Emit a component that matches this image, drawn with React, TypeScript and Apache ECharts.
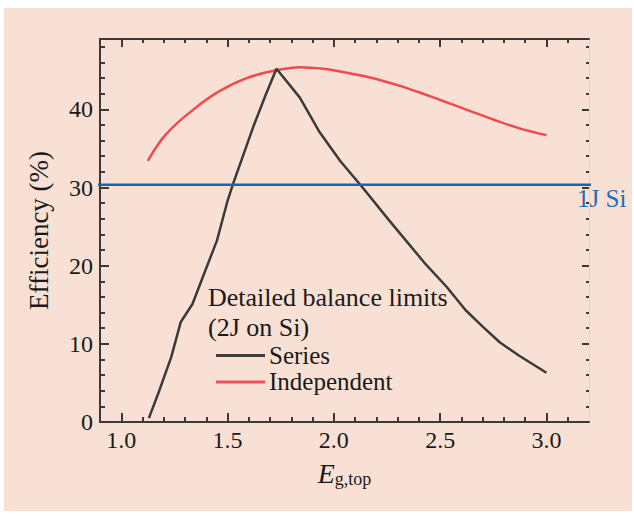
import React, { useEffect, useRef } from "react";
import * as echarts from "echarts";

const xMajorTicks = [1.0, 1.5, 2.0, 2.5, 3.0];
const xMinorTicks = [1.1, 1.2, 1.3, 1.4, 1.6, 1.7, 1.8, 1.9, 2.1, 2.2, 2.3, 2.4, 2.6, 2.7, 2.8, 2.9, 3.1];
const yMajorTicks = [0, 10, 20, 30, 40];
const yMinorTicks = [2, 4, 6, 8, 12, 14, 16, 18, 22, 24, 26, 28, 32, 34, 36, 38, 42, 44, 46, 48];

const independentEg = [1.125, 1.21, 1.34, 1.46, 1.59, 1.73, 1.84, 1.95, 2.06, 2.18, 2.31, 2.42, 2.5, 2.62, 2.75, 2.87, 3.0];
const independentEff = [33.4, 36.8, 40.0, 42.3, 44.0, 45.0, 45.4, 45.2, 44.7, 44.0, 43.0, 42.0, 41.2, 40.0, 38.7, 37.6, 36.7];

const seriesEg = [1.13, 1.18, 1.235, 1.28, 1.335, 1.39, 1.45, 1.5, 1.525, 1.62, 1.68, 1.73, 1.84, 1.93, 2.03, 2.135, 2.26, 2.425, 2.53, 2.62, 2.7, 2.78, 2.87, 3.0];
const seriesEff = [0.5, 4.1, 8.3, 12.8, 15.1, 19.0, 23.2, 28.3, 30.4, 37.7, 41.9, 45.2, 41.5, 37.2, 33.4, 30.0, 25.8, 20.4, 17.3, 14.3, 12.2, 10.2, 8.5, 6.3];

const siLimitEg = [0.809, 3.304];
const siLimitEff = [30.35, 30.35];

const FONT = '"Liberation Serif", "DejaVu Serif", "Times New Roman", serif';
const TEXT = "#1a1a1a";
const AXIS = "#3a3a3a";

export default function App() {
  const ref = useRef<HTMLDivElement>(null);
  useEffect(() => {
    document.body.style.margin = "0";
    const chart = echarts.init(ref.current!, null, { renderer: "svg" });
    const tickBase = { show: true, inside: true, lineStyle: { color: AXIS, width: 2 } };
    const xCommon = { type: "value", min: 0.9, max: 3.2, splitLine: { show: false }, gridIndex: 0 };
    const yCommon = { type: "value", min: 0, max: 49, splitLine: { show: false }, gridIndex: 0 };
    const lg = { fontSize: 25, fontFamily: FONT, lineHeight: 24, fill: TEXT, verticalAlign: "middle" };
    chart.setOption({
      animation: false,
      backgroundColor: "#ffffff",
      graphic: [
        { type: "rect", z: -10, shape: { x: 4, y: 8, width: 628, height: 503 }, style: { fill: "#f9e0d5" } },
        { type: "text", x: 208, y: 297, style: { ...lg, text: "Detailed balance limits", fontSize: 26 } },
        { type: "text", x: 208, y: 327, style: { ...lg, text: "(2J on Si)", fontSize: 26 } },
        { type: "line", shape: { x1: 216, y1: 355.5, x2: 265, y2: 355.5 }, style: { stroke: "#3c3c3c", lineWidth: 3 } },
        { type: "text", x: 269, y: 355, style: { ...lg, text: "Series" } },
        { type: "line", shape: { x1: 216, y1: 382, x2: 265, y2: 382 }, style: { stroke: "#ee5058", lineWidth: 3 } },
        { type: "text", x: 269, y: 381, style: { ...lg, text: "Independent" } },
        { type: "text", x: 577, y: 198, style: { text: "1J Si", fontSize: 25, fontFamily: FONT, verticalAlign: "middle", fill: "#1d6fb8" } },
      ],
      grid: { left: 100, right: 45, top: 39, bottom: 96, containLabel: false },
      xAxis: [
        {
          ...xCommon,
          position: "bottom",
          axisLine: { show: true, onZero: false, lineStyle: { color: AXIS, width: 2 } },
          axisTick: { ...tickBase, length: 9, customValues: xMajorTicks },
          axisLabel: {
            show: true, customValues: xMajorTicks, margin: 6, fontSize: 24, fontFamily: FONT, color: TEXT,
            formatter: (v: number) => v.toFixed(1),
          },
          name: "{e|E}{s|g,top}",
          nameLocation: "middle",
          nameGap: 36,
          nameTextStyle: {
            rich: {
              e: { fontSize: 28, fontStyle: "italic", fontFamily: FONT, color: TEXT, verticalAlign: "middle" },
              s: { fontSize: 18, fontFamily: FONT, color: TEXT, padding: [12, 0, 0, 0], verticalAlign: "middle" },
            },
          },
        },
        {
          ...xCommon,
          position: "bottom",
          axisLine: { show: false, onZero: false },
          axisTick: { ...tickBase, length: 5, customValues: xMinorTicks },
          axisLabel: { show: false },
        },
        {
          ...xCommon,
          position: "top",
          axisLine: { show: true, onZero: false, lineStyle: { color: AXIS, width: 2 } },
          axisTick: { ...tickBase, length: 8, customValues: xMajorTicks },
          axisLabel: { show: false },
        },
        {
          ...xCommon,
          position: "top",
          axisLine: { show: false, onZero: false },
          axisTick: { ...tickBase, length: 4, customValues: xMinorTicks },
          axisLabel: { show: false },
        },
      ],
      yAxis: [
        {
          ...yCommon,
          position: "left",
          axisLine: { show: true, onZero: false, lineStyle: { color: AXIS, width: 2 } },
          axisTick: { ...tickBase, length: 9, customValues: yMajorTicks },
          axisLabel: { show: true, customValues: yMajorTicks, margin: 7, fontSize: 24, fontFamily: FONT, color: TEXT },
          name: "Efficiency (%)",
          nameLocation: "middle",
          nameGap: 48,
          nameTextStyle: { fontSize: 27, fontFamily: FONT, color: TEXT },
        },
        {
          ...yCommon,
          position: "left",
          axisLine: { show: false, onZero: false },
          axisTick: { ...tickBase, length: 5, customValues: yMinorTicks },
          axisLabel: { show: false },
        },
        {
          ...yCommon,
          position: "right",
          axisLine: { show: true, onZero: false, lineStyle: { color: "#e6d2ca", width: 1 } },
          axisTick: { ...tickBase, length: 7, customValues: yMajorTicks },
          axisLabel: { show: false },
        },
        {
          ...yCommon,
          position: "right",
          axisLine: { show: false, onZero: false },
          axisTick: { ...tickBase, length: 3, customValues: yMinorTicks },
          axisLabel: { show: false },
        },
      ],
      series: [
        {
          name: "Independent",
          type: "line",
          xAxisIndex: 0,
          yAxisIndex: 0,
          smooth: 0.4,
          symbol: "none",
          lineStyle: { color: "#ee4a4f", width: 2.5 },
          data: independentEg.map((x, i) => [x, independentEff[i]]),
          z: 3,
        },
        {
          name: "Series",
          type: "line",
          xAxisIndex: 0,
          yAxisIndex: 0,
          smooth: false,
          symbol: "none",
          lineStyle: { color: "#3a3a3a", width: 2.5 },
          data: seriesEg.map((x, i) => [x, seriesEff[i]]),
          z: 4,
        },
        {
          name: "1J Si",
          type: "line",
          xAxisIndex: 0,
          yAxisIndex: 0,
          clip: false,
          symbol: "none",
          lineStyle: { color: "#1466ae", width: 2.5 },
          data: siLimitEg.map((x, i) => [x, siLimitEff[i]]),
          z: 5,
        },
      ],
    });
    return () => chart.dispose();
  }, []);
  return <div ref={ref} style={{ width: 634, height: 518 }} />;
}
